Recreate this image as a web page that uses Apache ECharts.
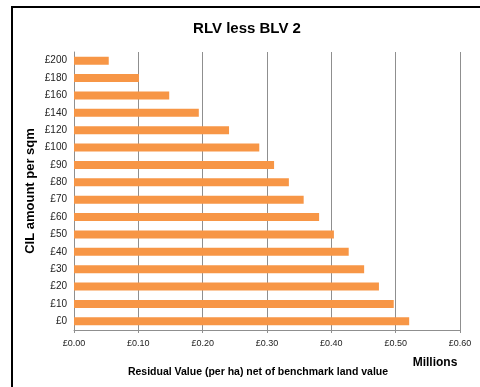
<!DOCTYPE html>
<html>
<head>
<meta charset="utf-8">
<script src="https://cdn.jsdelivr.net/npm/echarts@6/dist/echarts.min.js"></script>
<style>
  html, body { margin: 0; padding: 0; background: #fff; }
  #chart { width: 480px; height: 387px; }
</style>
</head>
<body>
<div id="chart"></div>
<script>
// CIL rates (bottom to top) and residual value net of BLV, in £ millions per ha
var cilRates = ['£0', '£10', '£20', '£30', '£40', '£50', '£60', '£70', '£80', '£90',
                '£100', '£120', '£140', '£160', '£180', '£200'];
var residualValues = [0.521, 0.497, 0.474, 0.451, 0.427, 0.404, 0.381, 0.357, 0.334, 0.311,
                      0.288, 0.241, 0.194, 0.148, 0.101, 0.054];
var xTickMin = 0, xTickMax = 0.6, xTickStep = 0.1;

var font = 'Liberation Sans, Arial, sans-serif';
var gridGrey = '#8f8f8f';

var myChart = echarts.init(document.getElementById('chart'));
var option = {
    animation: false,
    backgroundColor: '#fff',
    grid: { left: 74, right: 20, top: 52, bottom: 57, containLabel: false },
    xAxis: {
        type: 'value',
        min: xTickMin,
        max: xTickMax,
        interval: xTickStep,
        axisLine: { show: true, lineStyle: { color: gridGrey, width: 1 } },
        axisTick: { show: true, length: 3, lineStyle: { color: gridGrey } },
        splitLine: { show: true, lineStyle: { color: gridGrey, width: 1 } },
        axisLabel: {
            margin: 9,
            fontFamily: font,
            fontSize: 9,
            color: '#222',
            formatter: function (v) { return '£' + v.toFixed(2); }
        }
    },
    yAxis: {
        type: 'category',
        data: cilRates,
        axisLine: { show: true, lineStyle: { color: gridGrey, width: 1 } },
        axisTick: { show: false },
        splitLine: { show: false },
        axisLabel: { margin: 7, fontFamily: font, fontSize: 10, color: '#222' }
    },
    series: [{
        type: 'bar',
        data: residualValues,
        barWidth: 8,
        itemStyle: { color: '#F79646' }
    }],
    graphic: [
        {
            type: 'rect',
            shape: { x: 12, y: 7, width: 480, height: 400 },
            style: { fill: 'none', stroke: '#000', lineWidth: 2 },
            silent: true
        },
        {
            type: 'text',
            x: 247, y: 29,
            style: {
                text: 'RLV less BLV 2',
                font: 'bold 15px ' + font,
                fill: '#000',
                align: 'center',
                verticalAlign: 'middle'
            }
        },
        {
            type: 'text',
            x: 30, y: 191,
            rotation: Math.PI / 2,
            style: {
                text: 'CIL amount per sqm',
                font: 'bold 13px ' + font,
                fill: '#000',
                align: 'center',
                verticalAlign: 'middle'
            }
        },
        {
            type: 'text',
            x: 435, y: 363,
            style: {
                text: 'Millions',
                font: 'bold 12px ' + font,
                fill: '#000',
                align: 'center',
                verticalAlign: 'middle'
            }
        },
        {
            type: 'text',
            x: 258, y: 372,
            style: {
                text: 'Residual Value (per ha) net of benchmark land value',
                font: 'bold 10.5px ' + font,
                fill: '#000',
                align: 'center',
                verticalAlign: 'middle'
            }
        }
    ]
};
myChart.setOption(option);
</script>
</body>
</html>
